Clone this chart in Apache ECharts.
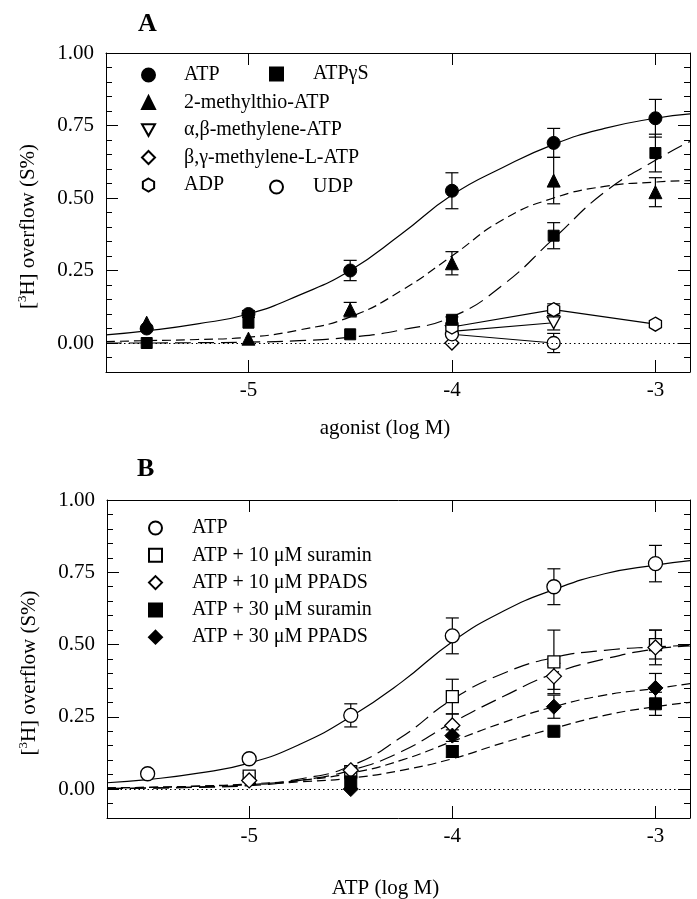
<!DOCTYPE html>
<html>
<head>
<meta charset="utf-8">
<script src="https://cdn.jsdelivr.net/npm/echarts@6/dist/echarts.min.js"></script>
<style>
html, body { margin: 0; padding: 0; background: #fff; }
#chart { width: 697px; height: 899px; }
</style>
</head>
<body>
<div id="chart"></div>
<script>
// tick labels
var xTicks = [-5, -4, -3];
var yTicks = [0, 0.25, 0.5, 0.75, 1.0];
var yMinorTicks = [-0.05, 0, 0.05, 0.1, 0.15, 0.2, 0.25, 0.3, 0.35, 0.4, 0.45, 0.5,
                   0.55, 0.6, 0.65, 0.7, 0.75, 0.8, 0.85, 0.9, 0.95];

// ---- panel A : agonists ----
var doseA = [-5.5, -5, -4.5, -4, -3.5, -3];
var atpA = [0.05, 0.10, 0.25, 0.525, 0.69, 0.775];
var atpAErr = [0, 0.012, 0.035, 0.062, 0.05, 0.065];
var mesA = [0.07, 0.015, 0.115, 0.275, 0.56, 0.52];
var mesAErr = [0, 0, 0.025, 0.04, 0.08, 0.05];
var atpgsA = [0, 0.07, 0.03, 0.08, 0.37, 0.655];
var atpgsAErr = [0, 0, 0, 0.01, 0.045, 0.065];
var doseADP = [-4, -3.5, -3];
var adpA = [0.055, 0.115, 0.065];
var adpAErr = [0, 0.02, 0];
var doseAB = [-4, -3.5];
var abA = [0.04, 0.07];
var abAErr = [0, 0.025];
var doseUDP = [-4, -3.5];
var udpA = [0.03, 0.0];
var udpAErr = [0, 0.033];
var doseBG = [-4];
var bgA = [0.0];

// fitted curves
var curveX = [-5.7, -5.5, -5.25, -5, -4.75, -4.5, -4.25, -4, -3.75, -3.5, -3.25, -3, -2.83];
var fitAtpA = [0.028, 0.042, 0.066, 0.10, 0.165, 0.25, 0.375, 0.51, 0.605, 0.685, 0.74, 0.775, 0.79];
var fitMesA = [0.005, 0.008, 0.012, 0.02, 0.045, 0.09, 0.18, 0.30, 0.425, 0.50, 0.54, 0.555, 0.56];
var fitAtpgsA = [0, 0, 0.001, 0.003, 0.008, 0.02, 0.045, 0.09, 0.20, 0.36, 0.52, 0.63, 0.695];

// ---- panel B : ATP with antagonists ----
var doseB = [-5.5, -5, -4.5, -4, -3.5, -3];
var atpB = [0.053, 0.105, 0.255, 0.53, 0.70, 0.78];
var atpBErr = [0, 0, 0.04, 0.062, 0.062, 0.063];
var doseB5 = [-5, -4.5, -4, -3.5, -3];
var sur10 = [0.045, 0.06, 0.32, 0.44, 0.50];
var sur10Err = [0.01, 0, 0.06, 0.11, 0.05];
var pp10 = [0.03, 0.065, 0.22, 0.39, 0.49];
var pp10Err = [0, 0, 0.04, 0.045, 0.06];
var doseB4 = [-4.5, -4, -3.5, -3];
var sur30 = [0.025, 0.13, 0.20, 0.295];
var sur30Err = [0, 0.02, 0, 0.04];
var pp30 = [0.0, 0.185, 0.285, 0.35];
var pp30Err = [0, 0.02, 0.04, 0.05];

var fitAtpB = [0.022, 0.033, 0.055, 0.09, 0.155, 0.25, 0.37, 0.51, 0.615, 0.69, 0.745, 0.775, 0.79];
var fitSur10 = [0.002, 0.004, 0.008, 0.015, 0.035, 0.08, 0.18, 0.31, 0.40, 0.455, 0.48, 0.492, 0.497];
var fitPp10 = [0.002, 0.003, 0.006, 0.012, 0.03, 0.065, 0.13, 0.23, 0.32, 0.40, 0.45, 0.485, 0.495];
var fitPp30 = [0.004, 0.006, 0.01, 0.018, 0.03, 0.055, 0.10, 0.165, 0.23, 0.285, 0.325, 0.348, 0.365];
var fitSur30 = [0.004, 0.006, 0.01, 0.015, 0.025, 0.038, 0.065, 0.105, 0.16, 0.21, 0.255, 0.285, 0.30];

var font = 'Liberation Serif';
var hexagon = 'path://M0,-1L0.866,-0.5L0.866,0.5L0,1L-0.866,0.5L-0.866,-0.5Z';
var downTriangle = 'path://M-1,-0.9L1,-0.9L0,0.9Z';

function pairs(xs, ys) {
    return xs.map(function (x, i) { return [x, ys[i]]; });
}
function barsOf(xs, ys, es) {
    var out = [];
    xs.forEach(function (x, i) {
        if (es[i] > 0) out.push([x, ys[i] - es[i], ys[i] + es[i]]);
    });
    return out;
}

function renderErrorBar(params, api) {
    var x = api.value(0);
    var hi = api.coord([x, api.value(2)]);
    var lo = api.coord([x, api.value(1)]);
    var w = 6.5;
    var st = { stroke: '#000', lineWidth: 1.2 };
    return {
        type: 'group',
        children: [
            { type: 'line', shape: { x1: hi[0], y1: hi[1], x2: lo[0], y2: lo[1] }, style: st },
            { type: 'line', shape: { x1: hi[0] - w, y1: hi[1], x2: hi[0] + w, y2: hi[1] }, style: st },
            { type: 'line', shape: { x1: lo[0] - w, y1: lo[1], x2: lo[0] + w, y2: lo[1] }, style: st }
        ]
    };
}

function marks(name, xs, ys, symbol, size, filled, xi, yi) {
    return {
        name: name, type: 'scatter', xAxisIndex: xi, yAxisIndex: yi,
        symbol: symbol, symbolSize: size, symbolKeepAspect: true, z: 4,
        itemStyle: {
            color: filled ? '#000' : '#fff', borderColor: '#000',
            borderWidth: filled ? 1 : 1.3, opacity: 1
        },
        data: pairs(xs, ys)
    };
}
function bars(xs, ys, es, xi, yi) {
    return {
        type: 'custom', xAxisIndex: xi, yAxisIndex: yi, z: 3, silent: true,
        renderItem: renderErrorBar, encode: { x: 0, y: [1, 2] },
        data: barsOf(xs, ys, es)
    };
}
function curve(xs, ys, dash, xi, yi) {
    return {
        type: 'line', xAxisIndex: xi, yAxisIndex: yi, z: 2, silent: true,
        showSymbol: false, smooth: 0.5,
        lineStyle: { color: '#000', width: 1.2, type: dash },
        data: pairs(xs, ys)
    };
}
function segment(xs, ys, xi, yi) {
    return {
        type: 'line', xAxisIndex: xi, yAxisIndex: yi, z: 2, silent: true,
        showSymbol: false, lineStyle: { color: '#000', width: 1.1 },
        data: pairs(xs, ys)
    };
}
function zeroLine(xi, yi) {
    return {
        type: 'line', xAxisIndex: xi, yAxisIndex: yi, silent: true, data: [],
        markLine: {
            silent: true, symbol: 'none', label: { show: false },
            lineStyle: { color: '#000', width: 1, type: [1.5, 3] },
            data: [{ yAxis: 0 }]
        }
    };
}

var yName = '[{sup|3}H] overflow (S%)';
function yAxesFor(g) {
    var base = { type: 'value', gridIndex: g, min: -0.1, max: 1.0, splitLine: { show: false } };
    var black = { color: '#000', width: 1 };
    return [
        Object.assign({}, base, {
            position: 'left',
            name: yName, nameLocation: 'middle', nameGap: 66,
            nameTextStyle: {
                fontFamily: font, fontSize: 21, color: '#000', lineHeight: 24,
                padding: [0, 28, 0, 0],
                rich: { sup: { fontFamily: font, fontSize: 13, verticalAlign: 'top', lineHeight: 13 } }
            },
            axisLine: { show: true, onZero: false, lineStyle: black },
            axisTick: { show: true, inside: true, length: 12, customValues: yTicks, lineStyle: black },
            axisLabel: {
                customValues: yTicks, color: '#000', fontFamily: font, fontSize: 21, margin: 12,
                formatter: function (v) { return v.toFixed(2); }
            }
        }),
        Object.assign({}, base, {
            position: 'left', axisLine: { show: false, onZero: false },
            axisTick: { show: true, inside: true, length: 6, customValues: yMinorTicks, lineStyle: black },
            axisLabel: { show: false }
        }),
        Object.assign({}, base, {
            position: 'right', axisLine: { show: true, onZero: false, lineStyle: black },
            axisTick: { show: true, inside: true, length: 12, customValues: yTicks, lineStyle: black },
            axisLabel: { show: false }
        }),
        Object.assign({}, base, {
            position: 'right', axisLine: { show: false, onZero: false },
            axisTick: { show: true, inside: true, length: 6, customValues: yMinorTicks, lineStyle: black },
            axisLabel: { show: false }
        })
    ];
}
function xAxesFor(g, name, gap) {
    var base = { type: 'value', gridIndex: g, min: -5.7, max: -2.83, splitLine: { show: false } };
    var black = { color: '#000', width: 1 };
    return [
        Object.assign({}, base, {
            position: 'bottom',
            name: name, nameLocation: 'middle', nameGap: gap,
            nameTextStyle: { fontFamily: font, fontSize: 21, color: '#000', padding: [0, 26, 0, 0] },
            axisLine: { show: true, onZero: false, lineStyle: black },
            axisTick: { show: true, inside: true, length: 12, customValues: xTicks, lineStyle: black },
            axisLabel: { customValues: xTicks, color: '#000', fontFamily: font, fontSize: 21, margin: 8 }
        }),
        Object.assign({}, base, {
            position: 'top', axisLine: { show: true, onZero: false, lineStyle: black },
            axisTick: { show: true, inside: true, length: 12, customValues: xTicks, lineStyle: black },
            axisLabel: { show: false }
        })
    ];
}

var legendText = { fontFamily: font, fontSize: 20, lineHeight: 20, color: '#000' };
function legendAt(left, top, gap, names, pad) {
    return {
        left: left, top: top, orient: 'vertical', itemGap: gap, padding: 0,
        itemWidth: 13, itemHeight: 13, selectedMode: false, data: names,
        textStyle: Object.assign({ padding: [0, 0, 0, pad] }, legendText)
    };
}

var chart = echarts.init(document.getElementById('chart'));
var option = {
    backgroundColor: '#fff',
    animation: false,
    title: [
        { text: 'A', left: 138, top: 11, padding: 0, textStyle: { fontFamily: font, fontWeight: 'bold', fontSize: 26, color: '#000' } },
        { text: 'B', left: 137, top: 456, padding: 0, textStyle: { fontFamily: font, fontWeight: 'bold', fontSize: 26, color: '#000' } }
    ],
    legend: [
        legendAt(141, 65, 7.5, ['ATP', '2-methylthio-ATP', 'α,β-methylene-ATP', 'β,γ-methylene-L-ATP', 'ADP'], 24),
        legendAt(269, 64, 93, ['ATPγS', 'UDP'], 25),
        legendAt(148, 518, 7.3, ['ATP ', 'ATP + 10 μM suramin', 'ATP + 10 μM PPADS', 'ATP + 30 μM suramin', 'ATP + 30 μM PPADS'], 25)
    ],
    grid: [
        { left: 106, top: 53, width: 584, height: 319, containLabel: false, outerBoundsMode: 'none' },
        { left: 107, top: 500, width: 583, height: 318, containLabel: false, outerBoundsMode: 'none' }
    ],
    xAxis: xAxesFor(0, 'agonist (log M)', 46).concat(xAxesFor(1, 'ATP (log M)', 60)),
    yAxis: yAxesFor(0).concat(yAxesFor(1)),
    series: [
        // panel A
        zeroLine(0, 0),
        curve(curveX, fitAtpA, 'solid', 0, 0),
        curve(curveX, fitMesA, [9, 5], 0, 0),
        curve(curveX, fitAtpgsA, [16, 7], 0, 0),
        segment(doseADP, adpA, 0, 0),
        segment(doseAB, abA, 0, 0),
        segment(doseUDP, udpA, 0, 0),
        bars(doseA, atpA, atpAErr, 0, 0),
        bars(doseA, mesA, mesAErr, 0, 0),
        bars(doseA, atpgsA, atpgsAErr, 0, 0),
        bars(doseADP, adpA, adpAErr, 0, 0),
        bars(doseAB, abA, abAErr, 0, 0),
        bars(doseUDP, udpA, udpAErr, 0, 0),
        marks('β,γ-methylene-L-ATP', doseBG, bgA, 'diamond', 14, false, 0, 0),
        marks('α,β-methylene-ATP', doseAB, abA, downTriangle, 13, false, 0, 0),
        marks('UDP', doseUDP, udpA, 'circle', 13, false, 0, 0),
        marks('ADP', doseADP, adpA, hexagon, 14, false, 0, 0),
        marks('ATPγS', doseA, atpgsA, 'rect', 11, true, 0, 0),
        marks('2-methylthio-ATP', doseA, mesA, 'triangle', 13, true, 0, 0),
        marks('ATP', doseA, atpA, 'circle', 13, true, 0, 0),
        // panel B
        zeroLine(2, 4),
        curve(curveX, fitAtpB, 'solid', 2, 4),
        curve(curveX, fitSur10, [16, 7], 2, 4),
        curve(curveX, fitPp10, [16, 7], 2, 4),
        curve(curveX, fitPp30, [9, 5], 2, 4),
        curve(curveX, fitSur30, [9, 5], 2, 4),
        bars(doseB, atpB, atpBErr, 2, 4),
        bars(doseB5, sur10, sur10Err, 2, 4),
        bars(doseB5, pp10, pp10Err, 2, 4),
        bars(doseB4, sur30, sur30Err, 2, 4),
        bars(doseB4, pp30, pp30Err, 2, 4),
        marks('ATP ', doseB, atpB, 'circle', 14, false, 2, 4),
        marks('ATP + 10 μM suramin', doseB5, sur10, 'rect', 12, false, 2, 4),
        marks('ATP + 10 μM PPADS', doseB5, pp10, 'diamond', 15, false, 2, 4),
        marks('ATP + 30 μM suramin', doseB4, sur30, 'rect', 12, true, 2, 4),
        marks('ATP + 30 μM PPADS', doseB4, pp30, 'diamond', 15, true, 2, 4)
    ]
};
chart.setOption(option);
</script>
</body>
</html>
